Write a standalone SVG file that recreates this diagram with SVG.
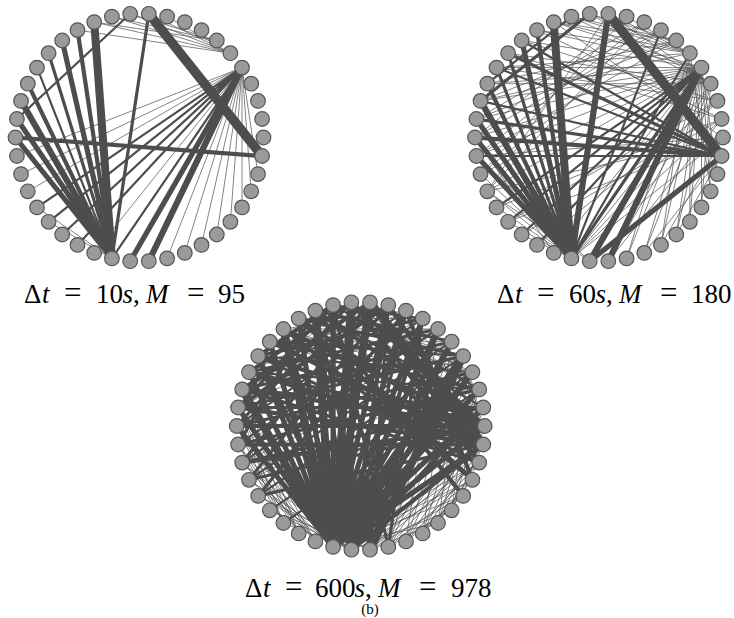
<svg xmlns="http://www.w3.org/2000/svg" width="734" height="618" viewBox="0 0 734 618">
<style>
.e{fill:none;stroke:#4d4d4d;stroke-linecap:butt}
.t{stroke-width:0.7}
.m{stroke-width:2.2}
.w3{stroke-width:3.2}
.w4{stroke-width:4.2}
.w5{stroke-width:5.2}
.w6{stroke-width:6.2}
.w8{stroke-width:8}
.w9{stroke-width:9.5}
.n{fill:#9a9a9a;stroke:#555;stroke-width:1.2}
text{font-family:"Liberation Serif","DejaVu Serif",serif;fill:#000;font-size:27px}
.i{font-style:italic}
.eq{font-size:31px}
.cap{font-size:15px}
</style>
<rect width="734" height="618" fill="#fff"/>

<!-- Graph 1 -->
<g id="graph1" transform="translate(139.5,137.5)">
<g id="edges1">
<path class="e t" d="M102.5 -69.9L118.5 36.6M102.5 -69.9L111.7 53.8M102.5 -69.9L102.5 69.9M102.5 -69.9L90.9 84.3M102.5 -69.9L77.3 97M102.5 -69.9L62 107.4M102.5 -69.9L45.3 115.4M102.5 -69.9L27.6 120.9M102.5 -69.9L-111.7 53.8M102.5 -69.9L-118.5 36.6M102.5 -69.9L-122.6 18.5M102.5 -69.9L-45.3 115.4M-45.3 -115.4L90.9 -84.3M-27.6 -120.9L90.9 -84.3M-9.3 -123.7L90.9 -84.3M9.3 -123.7L90.9 -84.3M-45.3 -115.4L77.3 -97M-27.6 -120.9L77.3 -97M-9.3 -123.7L77.3 -97M-62 -107.4L90.9 -84.3M27.6 -120.9L90.9 -84.3M-102.5 69.9L-27.6 120.9M-90.9 84.3L-27.6 120.9"/>
<path class="e m" d="M102.5 -69.9L-62 107.4M102.5 -69.9L-77.3 97M102.5 -69.9L-90.9 84.3M102.5 -69.9L-102.5 69.9M102.5 -69.9L-27.6 120.9M-9.3 -123.7L-122.6 -18.5M-102.5 -69.9L-27.6 120.9"/>
<path class="e w3" d="M9.3 -123.7L-27.6 120.9M-90.9 -84.3L-27.6 120.9"/>
<path class="e w4" d="M-124 0L122.6 18.5M-111.7 -53.8L-27.6 120.9M-62 -107.4L-27.6 120.9"/>
<path class="e w5" d="M102.5 -69.9L-9.3 123.7M-124 0L-27.6 120.9M-122.6 -18.5L-27.6 120.9M-77.3 -97L-27.6 120.9"/>
<path class="e w6" d="M102.5 -69.9L9.3 123.7M-118.5 -36.6L-27.6 120.9"/>
<path class="e w8" d="M-45.3 -115.4L-27.6 120.9"/>
<path class="e w9" d="M9.3 -123.7L122.6 18.5"/>
</g>
<g id="g1n0"><circle class="n" cx="9.3" cy="-123.7" r="7.3"/></g>
<g id="g1n1"><circle class="n" cx="27.6" cy="-120.9" r="7.3"/></g>
<g id="g1n2"><circle class="n" cx="45.3" cy="-115.4" r="7.3"/></g>
<g id="g1n3"><circle class="n" cx="62" cy="-107.4" r="7.3"/></g>
<g id="g1n4"><circle class="n" cx="77.3" cy="-97" r="7.3"/></g>
<g id="g1n5"><circle class="n" cx="90.9" cy="-84.3" r="7.3"/></g>
<g id="g1n6"><circle class="n" cx="102.5" cy="-69.9" r="7.3"/></g>
<g id="g1n7"><circle class="n" cx="111.7" cy="-53.8" r="7.3"/></g>
<g id="g1n8"><circle class="n" cx="118.5" cy="-36.6" r="7.3"/></g>
<g id="g1n9"><circle class="n" cx="122.6" cy="-18.5" r="7.3"/></g>
<g id="g1n10"><circle class="n" cx="124" cy="0" r="7.3"/></g>
<g id="g1n11"><circle class="n" cx="122.6" cy="18.5" r="7.3"/></g>
<g id="g1n12"><circle class="n" cx="118.5" cy="36.6" r="7.3"/></g>
<g id="g1n13"><circle class="n" cx="111.7" cy="53.8" r="7.3"/></g>
<g id="g1n14"><circle class="n" cx="102.5" cy="69.9" r="7.3"/></g>
<g id="g1n15"><circle class="n" cx="90.9" cy="84.3" r="7.3"/></g>
<g id="g1n16"><circle class="n" cx="77.3" cy="97" r="7.3"/></g>
<g id="g1n17"><circle class="n" cx="62" cy="107.4" r="7.3"/></g>
<g id="g1n18"><circle class="n" cx="45.3" cy="115.4" r="7.3"/></g>
<g id="g1n19"><circle class="n" cx="27.6" cy="120.9" r="7.3"/></g>
<g id="g1n20"><circle class="n" cx="9.3" cy="123.7" r="7.3"/></g>
<g id="g1n21"><circle class="n" cx="-9.3" cy="123.7" r="7.3"/></g>
<g id="g1n22"><circle class="n" cx="-27.6" cy="120.9" r="7.3"/></g>
<g id="g1n23"><circle class="n" cx="-45.3" cy="115.4" r="7.3"/></g>
<g id="g1n24"><circle class="n" cx="-62" cy="107.4" r="7.3"/></g>
<g id="g1n25"><circle class="n" cx="-77.3" cy="97" r="7.3"/></g>
<g id="g1n26"><circle class="n" cx="-90.9" cy="84.3" r="7.3"/></g>
<g id="g1n27"><circle class="n" cx="-102.5" cy="69.9" r="7.3"/></g>
<g id="g1n28"><circle class="n" cx="-111.7" cy="53.8" r="7.3"/></g>
<g id="g1n29"><circle class="n" cx="-118.5" cy="36.6" r="7.3"/></g>
<g id="g1n30"><circle class="n" cx="-122.6" cy="18.5" r="7.3"/></g>
<g id="g1n31"><circle class="n" cx="-124" cy="0" r="7.3"/></g>
<g id="g1n32"><circle class="n" cx="-122.6" cy="-18.5" r="7.3"/></g>
<g id="g1n33"><circle class="n" cx="-118.5" cy="-36.6" r="7.3"/></g>
<g id="g1n34"><circle class="n" cx="-111.7" cy="-53.8" r="7.3"/></g>
<g id="g1n35"><circle class="n" cx="-102.5" cy="-69.9" r="7.3"/></g>
<g id="g1n36"><circle class="n" cx="-90.9" cy="-84.3" r="7.3"/></g>
<g id="g1n37"><circle class="n" cx="-77.3" cy="-97" r="7.3"/></g>
<g id="g1n38"><circle class="n" cx="-62" cy="-107.4" r="7.3"/></g>
<g id="g1n39"><circle class="n" cx="-45.3" cy="-115.4" r="7.3"/></g>
<g id="g1n40"><circle class="n" cx="-27.6" cy="-120.9" r="7.3"/></g>
<g id="g1n41"><circle class="n" cx="-9.3" cy="-123.7" r="7.3"/></g>
</g>

<!-- Graph 2 -->
<g id="graph2" transform="translate(599,137.5)">
<g id="edges2">
<path class="e t" d="M102.5 -69.9L118.5 36.6M102.5 -69.9L111.7 53.8M102.5 -69.9L102.5 69.9M102.5 -69.9L90.9 84.3M102.5 -69.9L77.3 97M102.5 -69.9L62 107.4M102.5 -69.9L45.3 115.4M102.5 -69.9L27.6 120.9M111.7 -53.8L102.5 69.9M111.7 -53.8L77.3 97M111.7 -53.8L45.3 115.4M111.7 -53.8L9.3 123.7M90.9 -84.3L111.7 53.8M90.9 -84.3L90.9 84.3M90.9 -84.3L62 107.4M90.9 -84.3L27.6 120.9M102.5 -69.9L-45.3 115.4M102.5 -69.9L-111.7 53.8M102.5 -69.9L-118.5 36.6M102.5 -69.9L-122.6 18.5M102.5 -69.9L-124 0M102.5 -69.9L-122.6 -18.5M102.5 -69.9L-118.5 -36.6M102.5 -69.9L-111.7 -53.8M102.5 -69.9L-102.5 -69.9M-45.3 -115.4L90.9 -84.3M-27.6 -120.9L90.9 -84.3M-9.3 -123.7L90.9 -84.3M9.3 -123.7L90.9 -84.3M-62 -107.4L90.9 -84.3M27.6 -120.9L90.9 -84.3M-45.3 -115.4L77.3 -97M-27.6 -120.9L77.3 -97M-9.3 -123.7L77.3 -97M-77.3 -97L102.5 -69.9M-62 -107.4L102.5 -69.9M-45.3 -115.4L102.5 -69.9M-27.6 -120.9L111.7 -53.8M-9.3 -123.7L111.7 -53.8M9.3 -123.7L111.7 -53.8M-90.9 -84.3L111.7 -53.8M-77.3 -97L118.5 -36.6M-62 -107.4L122.6 -18.5M-45.3 -115.4L124 0M-90.9 -84.3L122.6 -18.5M-102.5 -69.9L118.5 -36.6M-111.7 -53.8L111.7 -53.8M45.3 -115.4L-122.6 18.5M45.3 -115.4L-122.6 -18.5M62 -107.4L-124 0M62 -107.4L-118.5 -36.6M77.3 -97L-122.6 -18.5M77.3 -97L-111.7 -53.8M27.6 -120.9L-118.5 36.6M27.6 -120.9L-124 0M90.9 -84.3L-118.5 -36.6M90.9 -84.3L-102.5 -69.9M45.3 -115.4L-111.7 53.8M62 -107.4L-118.5 36.6M77.3 -97L-122.6 18.5M9.3 -123.7L-111.7 53.8M124 0L-122.6 18.5M124 0L-111.7 53.8M122.6 -18.5L-102.5 69.9M118.5 -36.6L-90.9 84.3M118.5 -36.6L-62 107.4M122.6 -18.5L-77.3 97M124 0L-90.9 84.3M-118.5 36.6L-27.6 120.9M-111.7 53.8L-27.6 120.9M-102.5 69.9L-27.6 120.9M-90.9 84.3L-27.6 120.9M-77.3 97L-27.6 120.9M-122.6 18.5L-9.3 123.7M-111.7 53.8L-9.3 123.7M-124 0L-45.3 115.4M122.6 18.5L77.3 97M122.6 18.5L45.3 115.4M124 0L62 107.4M122.6 -18.5L9.3 123.7M-27.6 120.9L111.7 -53.8M-27.6 120.9L118.5 -36.6M-27.6 120.9L122.6 -18.5M-27.6 120.9L124 0"/>
<path class="e m" d="M122.6 18.5L-118.5 -36.6M122.6 18.5L-102.5 -69.9M122.6 18.5L-77.3 -97M122.6 18.5L-122.6 18.5M102.5 -69.9L-62 107.4M102.5 -69.9L-77.3 97M102.5 -69.9L-90.9 84.3M102.5 -69.9L-102.5 69.9M-27.6 -120.9L-111.7 -53.8M90.9 -84.3L-27.6 120.9M62 -107.4L-27.6 120.9"/>
<path class="e w3" d="M-122.6 -18.5L122.6 18.5M-90.9 -84.3L-27.6 120.9M-102.5 -69.9L-27.6 120.9M-9.3 -123.7L-118.5 -36.6M102.5 -69.9L-27.6 120.9M122.6 18.5L-90.9 -84.3"/>
<path class="e w4" d="M-124 0L122.6 18.5M-111.7 -53.8L-27.6 120.9M-62 -107.4L-27.6 120.9"/>
<path class="e w5" d="M122.6 18.5L-9.3 123.7M-124 0L-27.6 120.9M-122.6 -18.5L-27.6 120.9M-122.6 18.5L-27.6 120.9M-77.3 -97L-27.6 120.9"/>
<path class="e w6" d="M102.5 -69.9L9.3 123.7M102.5 -69.9L-9.3 123.7M9.3 -123.7L-27.6 120.9M-118.5 -36.6L-27.6 120.9"/>
<path class="e w8" d="M-45.3 -115.4L-27.6 120.9"/>
<path class="e w9" d="M9.3 -123.7L122.6 18.5"/>
</g>
<g id="g2n0"><circle class="n" cx="9.3" cy="-123.7" r="7.3"/></g>
<g id="g2n1"><circle class="n" cx="27.6" cy="-120.9" r="7.3"/></g>
<g id="g2n2"><circle class="n" cx="45.3" cy="-115.4" r="7.3"/></g>
<g id="g2n3"><circle class="n" cx="62" cy="-107.4" r="7.3"/></g>
<g id="g2n4"><circle class="n" cx="77.3" cy="-97" r="7.3"/></g>
<g id="g2n5"><circle class="n" cx="90.9" cy="-84.3" r="7.3"/></g>
<g id="g2n6"><circle class="n" cx="102.5" cy="-69.9" r="7.3"/></g>
<g id="g2n7"><circle class="n" cx="111.7" cy="-53.8" r="7.3"/></g>
<g id="g2n8"><circle class="n" cx="118.5" cy="-36.6" r="7.3"/></g>
<g id="g2n9"><circle class="n" cx="122.6" cy="-18.5" r="7.3"/></g>
<g id="g2n10"><circle class="n" cx="124" cy="0" r="7.3"/></g>
<g id="g2n11"><circle class="n" cx="122.6" cy="18.5" r="7.3"/></g>
<g id="g2n12"><circle class="n" cx="118.5" cy="36.6" r="7.3"/></g>
<g id="g2n13"><circle class="n" cx="111.7" cy="53.8" r="7.3"/></g>
<g id="g2n14"><circle class="n" cx="102.5" cy="69.9" r="7.3"/></g>
<g id="g2n15"><circle class="n" cx="90.9" cy="84.3" r="7.3"/></g>
<g id="g2n16"><circle class="n" cx="77.3" cy="97" r="7.3"/></g>
<g id="g2n17"><circle class="n" cx="62" cy="107.4" r="7.3"/></g>
<g id="g2n18"><circle class="n" cx="45.3" cy="115.4" r="7.3"/></g>
<g id="g2n19"><circle class="n" cx="27.6" cy="120.9" r="7.3"/></g>
<g id="g2n20"><circle class="n" cx="9.3" cy="123.7" r="7.3"/></g>
<g id="g2n21"><circle class="n" cx="-9.3" cy="123.7" r="7.3"/></g>
<g id="g2n22"><circle class="n" cx="-27.6" cy="120.9" r="7.3"/></g>
<g id="g2n23"><circle class="n" cx="-45.3" cy="115.4" r="7.3"/></g>
<g id="g2n24"><circle class="n" cx="-62" cy="107.4" r="7.3"/></g>
<g id="g2n25"><circle class="n" cx="-77.3" cy="97" r="7.3"/></g>
<g id="g2n26"><circle class="n" cx="-90.9" cy="84.3" r="7.3"/></g>
<g id="g2n27"><circle class="n" cx="-102.5" cy="69.9" r="7.3"/></g>
<g id="g2n28"><circle class="n" cx="-111.7" cy="53.8" r="7.3"/></g>
<g id="g2n29"><circle class="n" cx="-118.5" cy="36.6" r="7.3"/></g>
<g id="g2n30"><circle class="n" cx="-122.6" cy="18.5" r="7.3"/></g>
<g id="g2n31"><circle class="n" cx="-124" cy="0" r="7.3"/></g>
<g id="g2n32"><circle class="n" cx="-122.6" cy="-18.5" r="7.3"/></g>
<g id="g2n33"><circle class="n" cx="-118.5" cy="-36.6" r="7.3"/></g>
<g id="g2n34"><circle class="n" cx="-111.7" cy="-53.8" r="7.3"/></g>
<g id="g2n35"><circle class="n" cx="-102.5" cy="-69.9" r="7.3"/></g>
<g id="g2n36"><circle class="n" cx="-90.9" cy="-84.3" r="7.3"/></g>
<g id="g2n37"><circle class="n" cx="-77.3" cy="-97" r="7.3"/></g>
<g id="g2n38"><circle class="n" cx="-62" cy="-107.4" r="7.3"/></g>
<g id="g2n39"><circle class="n" cx="-45.3" cy="-115.4" r="7.3"/></g>
<g id="g2n40"><circle class="n" cx="-27.6" cy="-120.9" r="7.3"/></g>
<g id="g2n41"><circle class="n" cx="-9.3" cy="-123.7" r="7.3"/></g>
</g>

<!-- Graph 3 -->
<g id="graph3" transform="translate(360.7,426)">
<g id="edges3">
<path class="e t" d="M111.7 -53.8L90.9 84.3M111.7 -53.8L62 107.4M111.7 -53.8L27.6 120.9M111.7 -53.8L-9.3 123.7M118.5 -36.6L77.3 97M118.5 -36.6L45.3 115.4M118.5 -36.6L9.3 123.7M122.6 -18.5L90.9 84.3M122.6 -18.5L62 107.4M122.6 -18.5L27.6 120.9M122.6 -18.5L-9.3 123.7M124 0L102.5 69.9M124 0L77.3 97M124 0L45.3 115.4M124 0L9.3 123.7M122.6 18.5L90.9 84.3M122.6 18.5L62 107.4M122.6 18.5L27.6 120.9M122.6 18.5L9.3 123.7M118.5 36.6L77.3 97M118.5 36.6L45.3 115.4M118.5 36.6L9.3 123.7M118.5 36.6L-9.3 123.7M111.7 53.8L62 107.4M111.7 53.8L27.6 120.9M111.7 53.8L-9.3 123.7M102.5 69.9L45.3 115.4M102.5 69.9L9.3 123.7M90.9 84.3L27.6 120.9M90.9 84.3L-9.3 123.7M77.3 97L9.3 123.7M118.5 36.6L-27.6 120.9M111.7 53.8L-27.6 120.9M102.5 69.9L-27.6 120.9M77.3 97L-27.6 120.9M102.5 -69.9L77.3 97M102.5 -69.9L45.3 115.4M90.9 -84.3L62 107.4M90.9 -84.3L27.6 120.9M77.3 -97L45.3 115.4M-124 0L-45.3 115.4M-124 0L-62 107.4M-124 0L-77.3 97M-122.6 18.5L-45.3 115.4M-122.6 18.5L-62 107.4M-122.6 18.5L-77.3 97M-118.5 36.6L-27.6 120.9M-118.5 36.6L-45.3 115.4M-118.5 36.6L-9.3 123.7M-111.7 53.8L-9.3 123.7M-111.7 53.8L-27.6 120.9M-102.5 69.9L-9.3 123.7M-102.5 69.9L9.3 123.7M-90.9 84.3L9.3 123.7M-90.9 84.3L-9.3 123.7M-122.6 -18.5L-45.3 115.4M-122.6 -18.5L-62 107.4M-118.5 -36.6L-62 107.4M-122.6 -18.5L-77.3 97M-77.3 97L-9.3 123.7M-90.9 -84.3L90.9 -84.3M-77.3 -97L77.3 -97M-62 -107.4L62 -107.4M-102.5 -69.9L45.3 -115.4M-111.7 -53.8L27.6 -120.9M-118.5 -36.6L-9.3 -123.7M62 -107.4L-102.5 -69.9M77.3 -97L-90.9 -84.3M45.3 -115.4L-77.3 -97M-45.3 -115.4L102.5 -69.9M-27.6 -120.9L111.7 -53.8M-9.3 -123.7L118.5 -36.6M9.3 -123.7L122.6 -18.5M27.6 -120.9L118.5 -36.6M-62 -107.4L111.7 -53.8M-77.3 -97L118.5 -36.6M-90.9 -84.3L122.6 -18.5M45.3 -115.4L-118.5 -36.6M62 -107.4L-122.6 -18.5M77.3 -97L-124 0M90.9 -84.3L-122.6 18.5M102.5 -69.9L-118.5 36.6M111.7 -53.8L-111.7 53.8"/>
<path class="e m" d="M-27.6 -120.9L118.5 -36.6M-45.3 -115.4L122.6 -18.5M27.6 -120.9L-118.5 -36.6M45.3 -115.4L-124 0M62 -107.4L-122.6 18.5M77.3 -97L-118.5 36.6M90.9 -84.3L-111.7 53.8M102.5 -69.9L-102.5 69.9M111.7 -53.8L-90.9 84.3M118.5 -36.6L-77.3 97M-90.9 -84.3L102.5 -69.9M-102.5 -69.9L111.7 -53.8M-111.7 -53.8L118.5 -36.6M-118.5 -36.6L122.6 -18.5M-27.6 -120.9L62 -107.4"/>
<path class="e w3" d="M-122.6 -18.5L102.5 -69.9M-118.5 -36.6L90.9 -84.3M-111.7 -53.8L77.3 -97M-102.5 -69.9L62 -107.4M-124 0L111.7 -53.8M-122.6 18.5L118.5 -36.6M-118.5 36.6L122.6 -18.5M-90.9 -84.3L118.5 -36.6M-62 -107.4L102.5 -69.9M-45.3 -115.4L90.9 -84.3M-122.6 -18.5L122.6 -18.5M-111.7 -53.8L124 0M-118.5 -36.6L118.5 36.6M-102.5 -69.9L118.5 36.6M-77.3 -97L111.7 53.8M-27.6 -120.9L27.6 120.9M27.6 -120.9L9.3 123.7M62 -107.4L27.6 120.9M-45.3 -115.4L9.3 123.7M45.3 -115.4L-9.3 123.7M77.3 -97L9.3 123.7M-124 0L-9.3 -123.7M-122.6 18.5L-45.3 -115.4M-118.5 36.6L9.3 -123.7M-111.7 53.8L27.6 -120.9M-122.6 -18.5L-27.6 -120.9M-102.5 69.9L45.3 -115.4M-111.7 53.8L124 0M-102.5 69.9L122.6 18.5"/>
<path class="e w4" d="M-9.3 123.7L-102.5 -69.9M-9.3 123.7L-77.3 -97M-9.3 123.7L-45.3 -115.4M-9.3 123.7L-9.3 -123.7M-9.3 123.7L27.6 -120.9M-9.3 123.7L62 -107.4M-9.3 123.7L90.9 -84.3M-9.3 123.7L111.7 -53.8M-9.3 123.7L122.6 -18.5M-9.3 123.7L122.6 18.5M124 0L-124 0M124 0L-118.5 -36.6M124 0L-102.5 -69.9M124 0L-77.3 -97M124 0L-45.3 -115.4M124 0L-9.3 -123.7M124 0L-118.5 36.6M122.6 18.5L-122.6 -18.5M122.6 18.5L-111.7 -53.8M122.6 18.5L-90.9 -84.3M122.6 18.5L-62 -107.4M122.6 18.5L-122.6 18.5M9.3 -123.7L-118.5 -36.6M-9.3 -123.7L-111.7 -53.8M27.6 -120.9L-122.6 -18.5M-27.6 -120.9L-102.5 -69.9M9.3 -123.7L118.5 36.6M27.6 -120.9L122.6 18.5M45.3 -115.4L111.7 53.8M-9.3 -123.7L118.5 36.6M-45.3 -115.4L102.5 69.9M-62 -107.4L111.7 53.8"/>
<path class="e w5" d="M-27.6 120.9L-124 0M-27.6 120.9L-122.6 -18.5M-27.6 120.9L-111.7 -53.8M-27.6 120.9L-102.5 -69.9M-27.6 120.9L-62 -107.4M-27.6 120.9L-27.6 -120.9M-27.6 120.9L27.6 -120.9M-27.6 120.9L45.3 -115.4M-27.6 120.9L77.3 -97M-27.6 120.9L90.9 -84.3M-27.6 120.9L111.7 -53.8M-27.6 120.9L118.5 -36.6M-27.6 120.9L122.6 -18.5M-27.6 120.9L124 0M-27.6 120.9L122.6 18.5M-27.6 120.9L-90.9 -84.3M-27.6 120.9L62 -107.4M102.5 -69.9L-9.3 123.7"/>
<path class="e w8" d="M-27.6 120.9L-118.5 -36.6M-27.6 120.9L-77.3 -97M-27.6 120.9L-45.3 -115.4M-27.6 120.9L9.3 -123.7M-27.6 120.9L102.5 -69.9M-27.6 120.9L-9.3 -123.7M9.3 -123.7L122.6 18.5M102.5 -69.9L9.3 123.7"/>
</g>
<g id="g3n0"><circle class="n" cx="9.3" cy="-123.7" r="7.3"/></g>
<g id="g3n1"><circle class="n" cx="27.6" cy="-120.9" r="7.3"/></g>
<g id="g3n2"><circle class="n" cx="45.3" cy="-115.4" r="7.3"/></g>
<g id="g3n3"><circle class="n" cx="62" cy="-107.4" r="7.3"/></g>
<g id="g3n4"><circle class="n" cx="77.3" cy="-97" r="7.3"/></g>
<g id="g3n5"><circle class="n" cx="90.9" cy="-84.3" r="7.3"/></g>
<g id="g3n6"><circle class="n" cx="102.5" cy="-69.9" r="7.3"/></g>
<g id="g3n7"><circle class="n" cx="111.7" cy="-53.8" r="7.3"/></g>
<g id="g3n8"><circle class="n" cx="118.5" cy="-36.6" r="7.3"/></g>
<g id="g3n9"><circle class="n" cx="122.6" cy="-18.5" r="7.3"/></g>
<g id="g3n10"><circle class="n" cx="124" cy="0" r="7.3"/></g>
<g id="g3n11"><circle class="n" cx="122.6" cy="18.5" r="7.3"/></g>
<g id="g3n12"><circle class="n" cx="118.5" cy="36.6" r="7.3"/></g>
<g id="g3n13"><circle class="n" cx="111.7" cy="53.8" r="7.3"/></g>
<g id="g3n14"><circle class="n" cx="102.5" cy="69.9" r="7.3"/></g>
<g id="g3n15"><circle class="n" cx="90.9" cy="84.3" r="7.3"/></g>
<g id="g3n16"><circle class="n" cx="77.3" cy="97" r="7.3"/></g>
<g id="g3n17"><circle class="n" cx="62" cy="107.4" r="7.3"/></g>
<g id="g3n18"><circle class="n" cx="45.3" cy="115.4" r="7.3"/></g>
<g id="g3n19"><circle class="n" cx="27.6" cy="120.9" r="7.3"/></g>
<g id="g3n20"><circle class="n" cx="9.3" cy="123.7" r="7.3"/></g>
<g id="g3n21"><circle class="n" cx="-9.3" cy="123.7" r="7.3"/></g>
<g id="g3n22"><circle class="n" cx="-27.6" cy="120.9" r="7.3"/></g>
<g id="g3n23"><circle class="n" cx="-45.3" cy="115.4" r="7.3"/></g>
<g id="g3n24"><circle class="n" cx="-62" cy="107.4" r="7.3"/></g>
<g id="g3n25"><circle class="n" cx="-77.3" cy="97" r="7.3"/></g>
<g id="g3n26"><circle class="n" cx="-90.9" cy="84.3" r="7.3"/></g>
<g id="g3n27"><circle class="n" cx="-102.5" cy="69.9" r="7.3"/></g>
<g id="g3n28"><circle class="n" cx="-111.7" cy="53.8" r="7.3"/></g>
<g id="g3n29"><circle class="n" cx="-118.5" cy="36.6" r="7.3"/></g>
<g id="g3n30"><circle class="n" cx="-122.6" cy="18.5" r="7.3"/></g>
<g id="g3n31"><circle class="n" cx="-124" cy="0" r="7.3"/></g>
<g id="g3n32"><circle class="n" cx="-122.6" cy="-18.5" r="7.3"/></g>
<g id="g3n33"><circle class="n" cx="-118.5" cy="-36.6" r="7.3"/></g>
<g id="g3n34"><circle class="n" cx="-111.7" cy="-53.8" r="7.3"/></g>
<g id="g3n35"><circle class="n" cx="-102.5" cy="-69.9" r="7.3"/></g>
<g id="g3n36"><circle class="n" cx="-90.9" cy="-84.3" r="7.3"/></g>
<g id="g3n37"><circle class="n" cx="-77.3" cy="-97" r="7.3"/></g>
<g id="g3n38"><circle class="n" cx="-62" cy="-107.4" r="7.3"/></g>
<g id="g3n39"><circle class="n" cx="-45.3" cy="-115.4" r="7.3"/></g>
<g id="g3n40"><circle class="n" cx="-27.6" cy="-120.9" r="7.3"/></g>
<g id="g3n41"><circle class="n" cx="-9.3" cy="-123.7" r="7.3"/></g>
</g>

<!-- Labels -->
<text id="label1" y="303"><tspan x="24">Δ</tspan><tspan x="42" class="i">t</tspan><tspan x="64" class="eq">=</tspan><tspan x="96">10</tspan><tspan x="122.5" class="i">s</tspan><tspan x="133">,</tspan><tspan x="146" class="i">M</tspan><tspan x="187" class="eq">=</tspan><tspan x="218">95</tspan></text>
<text id="label2" y="303"><tspan x="497">Δ</tspan><tspan x="515" class="i">t</tspan><tspan x="537" class="eq">=</tspan><tspan x="569">60</tspan><tspan x="595.5" class="i">s</tspan><tspan x="606">,</tspan><tspan x="619" class="i">M</tspan><tspan x="660" class="eq">=</tspan><tspan x="691">180</tspan></text>
<text id="label3" y="597"><tspan x="245">Δ</tspan><tspan x="263" class="i">t</tspan><tspan x="285" class="eq">=</tspan><tspan x="315">600</tspan><tspan x="354.5" class="i">s</tspan><tspan x="365">,</tspan><tspan x="378" class="i">M</tspan><tspan x="419" class="eq">=</tspan><tspan x="451">978</tspan></text>
<text id="caption" class="cap" x="370" y="614" text-anchor="middle">(b)</text>
</svg>
